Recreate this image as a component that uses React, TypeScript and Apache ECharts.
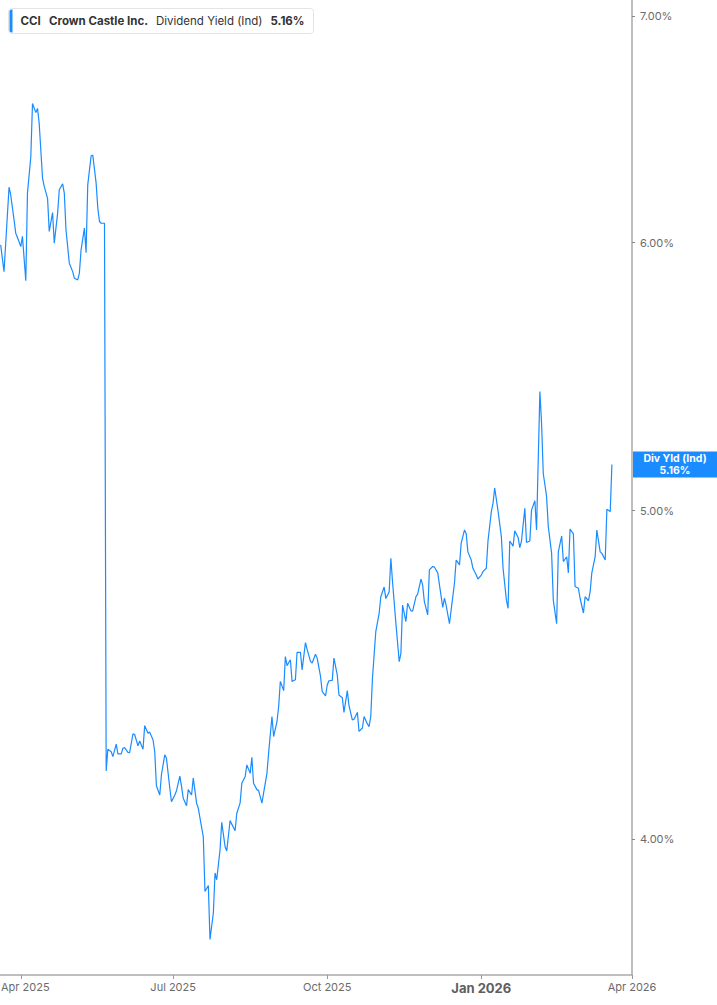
import React, { useEffect, useRef } from "react";
import * as echarts from "echarts";

const ticker = "CCI";
const company = "Crown Castle Inc.";
const metric = "Dividend Yield (Ind)";
const axisBadge = "Div Yld (Ind)";

const dates = [
  "2025-03-20","2025-03-22","2025-03-25","2025-03-26","2025-03-28","2025-03-29","2025-03-31","2025-04-01","2025-04-02","2025-04-04",
  "2025-04-05","2025-04-07","2025-04-08","2025-04-10","2025-04-11","2025-04-12","2025-04-14","2025-04-15","2025-04-17","2025-04-18",
  "2025-04-20","2025-04-21","2025-04-23","2025-04-24","2025-04-26","2025-04-27","2025-04-28","2025-04-30","2025-05-02","2025-05-03",
  "2025-05-05","2025-05-06","2025-05-07","2025-05-09","2025-05-10","2025-05-11","2025-05-13","2025-05-14","2025-05-16","2025-05-17",
  "2025-05-18","2025-05-19","2025-05-21","2025-05-22","2025-05-23","2025-05-25","2025-05-26","2025-05-28","2025-05-29","2025-05-31",
  "2025-06-01","2025-06-02","2025-06-04","2025-06-05","2025-06-07","2025-06-08","2025-06-10","2025-06-11","2025-06-13","2025-06-14",
  "2025-06-16","2025-06-17","2025-06-19","2025-06-20","2025-06-21","2025-06-23","2025-06-24","2025-06-26","2025-06-27","2025-06-29",
  "2025-06-30","2025-07-02","2025-07-03","2025-07-05","2025-07-06","2025-07-07","2025-07-09","2025-07-10","2025-07-12","2025-07-13",
  "2025-07-15","2025-07-16","2025-07-17","2025-07-19","2025-07-20","2025-07-22","2025-07-23","2025-07-25","2025-07-26","2025-07-27",
  "2025-07-29","2025-07-30","2025-08-01","2025-08-02","2025-08-04","2025-08-05","2025-08-07","2025-08-08","2025-08-10","2025-08-11",
  "2025-08-13","2025-08-14","2025-08-16","2025-08-17","2025-08-18","2025-08-20","2025-08-21","2025-08-23","2025-08-24","2025-08-26",
  "2025-08-27","2025-08-29","2025-08-30","2025-09-01","2025-09-02","2025-09-03","2025-09-05","2025-09-06","2025-09-07","2025-09-09",
  "2025-09-10","2025-09-12","2025-09-13","2025-09-15","2025-09-16","2025-09-18","2025-09-19","2025-09-21","2025-09-22","2025-09-24",
  "2025-09-25","2025-09-27","2025-09-28","2025-09-30","2025-10-01","2025-10-02","2025-10-04","2025-10-05","2025-10-07","2025-10-08",
  "2025-10-10","2025-10-11","2025-10-13","2025-10-14","2025-10-16","2025-10-17","2025-10-19","2025-10-20","2025-10-22","2025-10-23",
  "2025-10-25","2025-10-26","2025-10-27","2025-10-28","2025-10-30","2025-11-01","2025-11-02","2025-11-04","2025-11-05","2025-11-07",
  "2025-11-08","2025-11-09","2025-11-11","2025-11-13","2025-11-14","2025-11-15","2025-11-17","2025-11-18","2025-11-20","2025-11-21",
  "2025-11-23","2025-11-24","2025-11-26","2025-11-27","2025-11-28","2025-11-30","2025-12-01","2025-12-03","2025-12-04","2025-12-06",
  "2025-12-07","2025-12-09","2025-12-10","2025-12-11","2025-12-13","2025-12-14","2025-12-16","2025-12-17","2025-12-19","2025-12-20",
  "2025-12-22","2025-12-23","2025-12-24","2025-12-26","2025-12-27","2025-12-29","2025-12-30","2026-01-01","2026-01-02","2026-01-04",
  "2026-01-05","2026-01-07","2026-01-08","2026-01-09","2026-01-11","2026-01-13","2026-01-14","2026-01-16","2026-01-17","2026-01-18",
  "2026-01-20","2026-01-21","2026-01-23","2026-01-24","2026-01-25","2026-01-27","2026-01-28","2026-01-30","2026-01-31","2026-02-02",
  "2026-02-03","2026-02-05","2026-02-06","2026-02-07","2026-02-09","2026-02-10","2026-02-12","2026-02-13","2026-02-15","2026-02-16",
  "2026-02-18","2026-02-19","2026-02-21","2026-02-22","2026-02-23","2026-02-25","2026-02-26","2026-02-28","2026-03-01","2026-03-03",
  "2026-03-04","2026-03-06","2026-03-07","2026-03-08","2026-03-10","2026-03-11","2026-03-13","2026-03-14","2026-03-16","2026-03-17",
  "2026-03-19","2026-03-20"
];

const yields = [
  5.991,5.883,6.231,6.198,6.094,6.039,6.004,5.984,6.026,5.847,
  6.206,6.361,6.596,6.555,6.574,6.508,6.269,6.234,6.184,6.046,
  6.124,5.998,6.121,6.220,6.245,6.206,6.053,5.917,5.883,5.857,
  5.850,5.877,5.970,6.060,5.959,6.241,6.364,6.369,6.248,6.143,
  6.087,6.080,6.080,4.189,4.251,4.244,4.230,4.266,4.238,4.238,
  4.254,4.256,4.242,4.241,4.296,4.294,4.261,4.275,4.251,4.320,
  4.298,4.301,4.278,4.244,4.147,4.121,4.178,4.235,4.225,4.140,
  4.102,4.121,4.133,4.174,4.145,4.112,4.091,4.136,4.121,4.169,
  4.098,4.084,4.057,4.005,3.859,3.875,3.735,3.803,3.908,3.890,
  3.970,4.045,3.979,3.967,4.050,4.040,4.022,4.070,4.099,4.154,
  4.173,4.206,4.182,4.228,4.154,4.136,4.134,4.098,4.126,4.182,
  4.240,4.347,4.288,4.332,4.376,4.452,4.424,4.528,4.500,4.518,
  4.452,4.457,4.541,4.541,4.487,4.571,4.550,4.513,4.508,4.535,
  4.523,4.467,4.421,4.408,4.441,4.454,4.455,4.523,4.472,4.411,
  4.403,4.359,4.424,4.379,4.337,4.339,4.359,4.303,4.313,4.347,
  4.325,4.317,4.347,4.460,4.605,4.663,4.716,4.747,4.710,4.732,
  4.841,4.764,4.632,4.512,4.538,4.689,4.637,4.695,4.671,4.670,
  4.716,4.724,4.773,4.753,4.700,4.658,4.803,4.814,4.812,4.793,
  4.755,4.682,4.711,4.689,4.630,4.674,4.760,4.835,4.819,4.891,
  4.935,4.922,4.862,4.835,4.808,4.786,4.773,4.786,4.797,4.808,
  4.898,4.997,5.025,5.078,5.000,4.912,4.808,4.705,4.679,4.898,
  4.881,4.932,4.910,4.876,4.898,5.008,4.893,4.898,5.002,5.034,
  4.935,5.422,5.306,5.129,5.048,4.947,4.857,4.705,4.630,4.862,
  4.915,4.830,4.846,4.793,4.938,4.922,4.749,4.743,4.711,4.664,
  4.716,4.703,4.732,4.793,4.846,4.935,4.862,4.857,4.835,5.005,
  4.997,5.160
];

const yTicks = [4, 5, 6, 7];
const yRange = [3.646, 7.077];
const xTickDates = ["2025-04-01", "2025-07-01", "2025-10-01", "2026-01-01", "2026-04-01"];
const xTickLabels = ["Apr 2025", "Jul 2025", "Oct 2025", "Jan 2026", "Apr 2026"];
const xBoldLabel = "Jan 2026";
const xRangeStart = "2025-03-19T14:24";
const xRangeEnd = "2026-04-01T00:00";

const BLUE = "#1a8cff";
const FONT = "Inter, 'Noto Sans', sans-serif";
const DAY = 86400000;

function toTime(s: string): number {
  const [d, t] = s.split("T");
  const [y, m, day] = d.split("-").map(Number);
  let hh = 0, mm = 0;
  if (t) { const p = t.split(":").map(Number); hh = p[0]; mm = p[1]; }
  return new Date(y, m - 1, day, hh, mm).getTime();
}

export default function App() {
  const ref = useRef<HTMLDivElement>(null);
  useEffect(() => {
    document.body.style.margin = "0";
    if (!ref.current) return;
    const chart = echarts.init(ref.current, undefined, { renderer: "svg" });
    const t0 = toTime(xRangeStart);
    const dayOf = (s: string) => (toTime(s) - t0) / DAY;
    const seriesData = dates.map((d, i) => [dayOf(d), Math.log(yields[i])]);
    const xTicks = xTickDates.map(dayOf);
    const xMax = dayOf(xRangeEnd);
    const yTickVals = yTicks.map((v) => Math.log(v));
    const option: any = {
      animation: false,
      backgroundColor: "#ffffff",
      grid: { left: 0, right: 85, top: 0, bottom: 30, containLabel: false, outerBoundsMode: "none" },
      xAxis: {
        type: "value",
        min: 0,
        max: xMax,
        axisLine: { show: true, onZero: false, lineStyle: { color: "#aaaaaa", width: 1.5 } },
        axisTick: { show: true, length: 4, lineStyle: { color: "#999999" }, customValues: xTicks },
        splitLine: { show: false },
        axisLabel: {
          customValues: xTicks,
          showMinLabel: true,
          showMaxLabel: true,
          hideOverlap: false,
          margin: 6,
          color: "#6b6b6b",
          fontFamily: FONT,
          fontSize: 11,
          formatter: (v: number) => {
            const idx = xTicks.findIndex((t) => Math.abs(t - v) < 0.5);
            const s = idx >= 0 ? xTickLabels[idx] : "";
            if (s === xBoldLabel) return `{b|${s}}`;
            if (idx === 0) return `{f|${s}}`;
            return s;
          },
          rich: {
            b: { fontFamily: FONT, fontSize: 13, fontWeight: "bold", color: "#5e5e5e" },
            f: { fontFamily: FONT, fontSize: 11, color: "#6b6b6b", padding: [0, 0, 0, 9] },
          },
        },
      },
      yAxis: {
        type: "value",
        position: "right",
        min: Math.log(yRange[0]),
        max: Math.log(yRange[1]),
        axisLine: { show: true, onZero: false, lineStyle: { color: "#aaaaaa", width: 1.5 } },
        axisTick: { show: true, length: 3, lineStyle: { color: "#888888" }, customValues: yTickVals },
        splitLine: { show: false },
        axisLabel: {
          customValues: yTickVals,
          margin: 8,
          color: "#6b6b6b",
          fontFamily: FONT,
          fontSize: 11,
          formatter: (v: number) => Math.exp(v).toFixed(2) + "%",
        },
      },
      series: [
        {
          type: "line",
          data: seriesData,
          showSymbol: false,
          symbol: "none",
          lineStyle: { color: BLUE, width: 1.2 },
          clip: true,
        },
      ],
    };
    chart.setOption(option);

    const last = yields[yields.length - 1];
    const lastText = last.toFixed(2) + "%";
    const py = chart.convertToPixel({ yAxisIndex: 0 }, Math.log(last)) as number;
    const axisX = chart.convertToPixel({ xAxisIndex: 0 }, xMax) as number;
    const badgeCx = (axisX + 1 + 717) / 2;

    chart.setOption({
      graphic: [
        {
          type: "rect",
          shape: { x: 8.5, y: 8.5, width: 305, height: 25, r: 3 },
          style: { fill: "#ffffff", stroke: "#e4e4e4", lineWidth: 1 },
          z: 10,
        },
        {
          type: "rect",
          shape: { x: 9.5, y: 9.5, width: 3, height: 23, r: [2, 0, 0, 2] },
          style: { fill: BLUE },
          z: 11,
        },
        {
          type: "text", x: 20.5, y: 21, z: 11,
          style: { text: ticker, fill: "#333333", font: `bold 11.5px ${FONT}`, verticalAlign: "middle" },
        },
        {
          type: "text", x: 49, y: 21, z: 11,
          style: { text: company, fill: "#333333", font: `bold 11.5px ${FONT}`, verticalAlign: "middle" },
        },
        {
          type: "text", x: 156, y: 21, z: 11,
          style: { text: metric, fill: "#333333", font: `11.5px ${FONT}`, verticalAlign: "middle" },
        },
        {
          type: "text", x: 270.5, y: 21, z: 11,
          style: { text: lastText, fill: "#333333", font: `bold 11.5px ${FONT}`, verticalAlign: "middle" },
        },
        {
          type: "rect",
          shape: { x: axisX + 1, y: py - 13, width: 717 - axisX - 1, height: 26 },
          style: { fill: BLUE },
          z: 10,
        },
        {
          type: "text", x: badgeCx, y: py - 6, z: 11,
          style: { text: axisBadge, fill: "#ffffff", font: `bold 10.5px ${FONT}`, align: "center", verticalAlign: "middle" },
        },
        {
          type: "text", x: badgeCx, y: py + 6, z: 11,
          style: { text: lastText, fill: "#ffffff", font: `bold 10.5px ${FONT}`, align: "center", verticalAlign: "middle" },
        },
      ],
    });

    return () => chart.dispose();
  }, []);
  return <div ref={ref} style={{ width: 717, height: 1005 }} />;
}
